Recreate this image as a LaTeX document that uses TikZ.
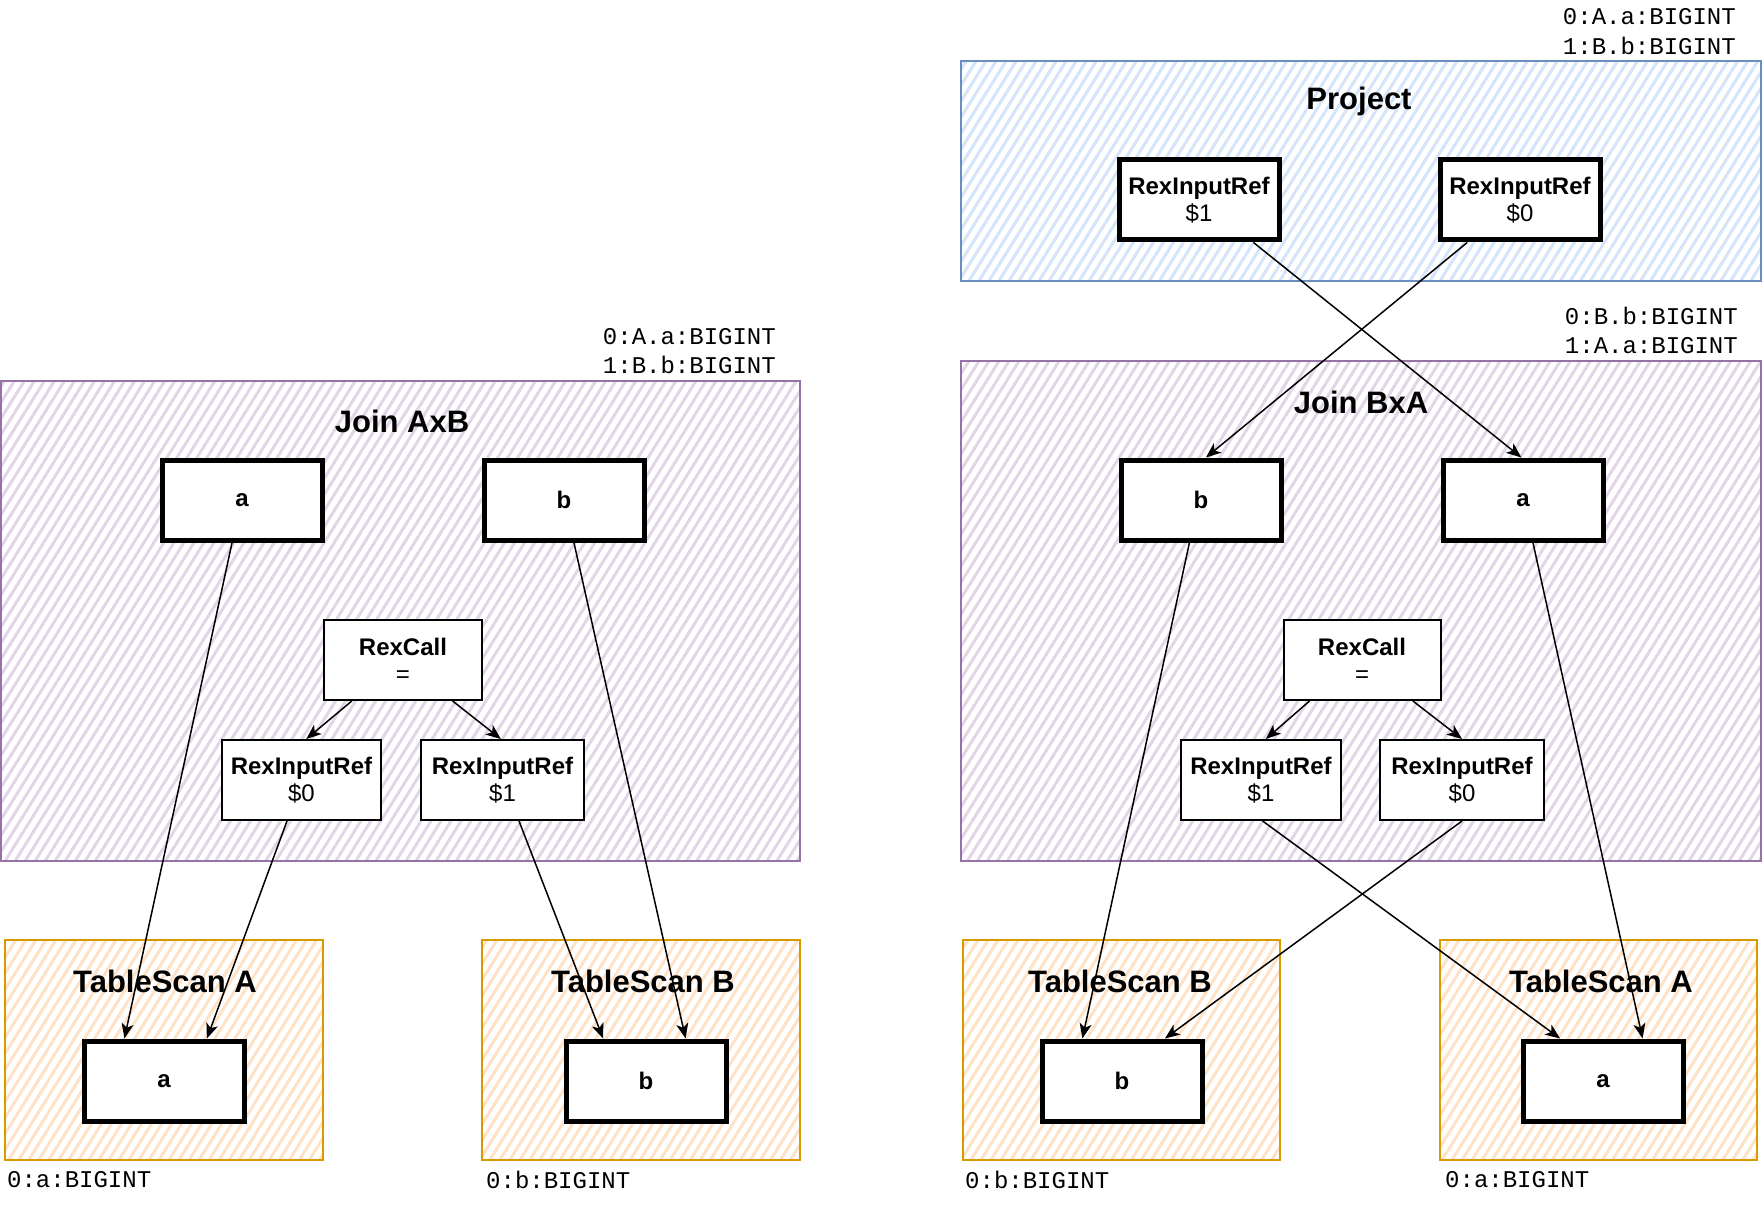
\documentclass[tikz,border=0pt]{standalone}
\usepackage{fontspec}
\setmainfont{Liberation Sans}
\setmonofont{Liberation Mono}
\usetikzlibrary{calc,arrows.meta,patterns.meta}
\definecolor{joinline}{HTML}{9673A6}
\definecolor{joinfill}{HTML}{E1D5E7}
\definecolor{projline}{HTML}{6C8EBF}
\definecolor{projfill}{HTML}{D4E4FA}
\definecolor{scanline}{HTML}{D79B00}
\definecolor{scanfill}{HTML}{FFE2C6}
\tikzset{
	group/.style={draw, line width=2pt, inner sep=0pt, pattern={Lines[angle=58,distance=8.5pt,line width=3pt]}},
	joinbox/.style={group, draw=joinline, pattern color=joinfill},
	projbox/.style={group, draw=projline, pattern color=projfill},
	scanbox/.style={group, draw=scanline, pattern color=scanfill},
	title/.style={font=\fontsize{31}{37}\selectfont\bfseries},
	field/.style={draw, fill=white, line width=5pt, minimum width=160pt, minimum height=80pt, inner sep=0pt, font=\fontsize{24}{27}\selectfont\bfseries},
	rex/.style={draw, fill=white, line width=2pt, minimum height=80pt, inner sep=0pt, align=center, font=\fontsize{24}{27}\selectfont},
	bigrex/.style={rex, line width=5pt, minimum width=160pt},
	schema/.style={font=\fontsize{24}{29.5}\selectfont\ttfamily, inner sep=0pt},
	flow/.style={line width=1.5pt, -{Stealth[length=15pt,width=12pt,inset=4pt]}}
}
\begin{document}
\begin{tikzpicture}[x=1pt,y=-1pt]
	\useasboundingbox (0,0) rectangle (1764,1222);
	% left plan
	\node[joinbox, minimum width=799pt, minimum height=480pt] (ljoin) at (400.5,621) {};
	\node[title] (ljoin-t) at (402,421) {Join AxB};
	\node[schema, anchor=east, align=right] (ljoin-s) at (776,351) {0:A.a:BIGINT\\1:B.b:BIGINT};
	\node[scanbox, minimum width=318pt, minimum height=220pt] (lscanA) at (164,1050) {};
	\node[title] (lscanA-t) at (165,981) {TableScan A};
	\node[schema, anchor=west] (lscanA-s) at (7,1180) {0:a:BIGINT};
	\node[scanbox, minimum width=318pt, minimum height=220pt] (lscanB) at (641,1050) {};
	\node[title] (lscanB-t) at (643,981) {TableScan B};
	\node[schema, anchor=west] (lscanB-s) at (486,1180) {0:b:BIGINT};
	\node[field] (ljoin-a) at (242,500) {a};
	\node[field] (ljoin-b) at (564,500) {b};
	\node[rex, minimum width=158pt] (lcall) at (403,660) {\textbf{RexCall}\\=};
	\node[rex, minimum width=159pt] (lref0) at (301.5,780) {\textbf{RexInputRef}\\\$0};
	\node[rex, minimum width=163pt] (lref1) at (502.5,780) {\textbf{RexInputRef}\\\$1};
	\node[field] (lscanA-a) at (164,1081) {a};
	\node[field] (lscanB-b) at (646,1081) {b};
	\draw[flow] ($(lcall.south west)!.18!(lcall.south east)$) -- ($(lref0.north west)!.53!(lref0.north east)$);
	\draw[flow] ($(lcall.south west)!.81!(lcall.south east)$) -- ($(lref1.north west)!.49!(lref1.north east)$);
	\draw[flow] ($(ljoin-a.south west)!.44!(ljoin-a.south east)$) -- ($(lscanA-a.north west)!.26!(lscanA-a.north east)$);
	\draw[flow] ($(lref0.south west)!.41!(lref0.south east)$) -- ($(lscanA-a.north west)!.76!(lscanA-a.north east)$);
	\draw[flow] ($(lref1.south west)!.60!(lref1.south east)$) -- ($(lscanB-b.north west)!.24!(lscanB-b.north east)$);
	\draw[flow] ($(ljoin-b.south west)!.56!(ljoin-b.south east)$) -- ($(lscanB-b.north west)!.74!(lscanB-b.north east)$);
	% right plan
	\node[projbox, minimum width=800pt, minimum height=220pt] (proj) at (1361,171) {};
	\node[title] (proj-t) at (1359,101) {Project};
	\node[schema, anchor=east, align=right] (proj-s) at (1736,31.5) {0:A.a:BIGINT\\1:B.b:BIGINT};
	\node[joinbox, minimum width=800pt, minimum height=500pt] (rjoin) at (1361,611) {};
	\node[title] (rjoin-t) at (1361,402) {Join BxA};
	\node[schema, anchor=east, align=right] (rjoin-s) at (1738,330.5) {0:B.b:BIGINT\\1:A.a:BIGINT};
	\node[scanbox, minimum width=317pt, minimum height=220pt] (rscanB) at (1121.5,1050) {};
	\node[title] (rscanB-t) at (1120,981) {TableScan B};
	\node[schema, anchor=west] (rscanB-s) at (965,1180) {0:b:BIGINT};
	\node[scanbox, minimum width=317pt, minimum height=220pt] (rscanA) at (1598.5,1050) {};
	\node[title] (rscanA-t) at (1601,981) {TableScan A};
	\node[schema, anchor=west] (rscanA-s) at (1445,1180) {0:a:BIGINT};
	\node[bigrex] (proj-ref1) at (1199,200) {\textbf{RexInputRef}\\\$1};
	\node[bigrex] (proj-ref0) at (1520,200) {\textbf{RexInputRef}\\\$0};
	\node[field] (rjoin-b) at (1201,500) {b};
	\node[field] (rjoin-a) at (1523,500) {a};
	\node[rex, minimum width=157pt] (rcall) at (1362,660) {\textbf{RexCall}\\=};
	\node[rex, minimum width=160pt] (rref1) at (1261,780) {\textbf{RexInputRef}\\\$1};
	\node[rex, minimum width=164pt] (rref0) at (1462,780) {\textbf{RexInputRef}\\\$0};
	\node[field] (rscanB-b) at (1122,1081) {b};
	\node[field] (rscanA-a) at (1603,1081) {a};
	\draw[flow] ($(proj-ref1.south west)!.83!(proj-ref1.south east)$) -- ($(rjoin-a.north west)!.49!(rjoin-a.north east)$);
	\draw[flow] ($(proj-ref0.south west)!.18!(proj-ref0.south east)$) -- ($(rjoin-b.north west)!.53!(rjoin-b.north east)$);
	\draw[flow] ($(rcall.south west)!.17!(rcall.south east)$) -- ($(rref1.north west)!.53!(rref1.north east)$);
	\draw[flow] ($(rcall.south west)!.82!(rcall.south east)$) -- ($(rref0.north west)!.50!(rref0.north east)$);
	\draw[flow] ($(rjoin-b.south west)!.43!(rjoin-b.south east)$) -- ($(rscanB-b.north west)!.26!(rscanB-b.north east)$);
	\draw[flow] ($(rjoin-a.south west)!.56!(rjoin-a.south east)$) -- ($(rscanA-a.north west)!.74!(rscanA-a.north east)$);
	\draw[flow] ($(rref1.south west)!.51!(rref1.south east)$) -- ($(rscanA-a.north west)!.24!(rscanA-a.north east)$);
	\draw[flow] ($(rref0.south west)!.50!(rref0.south east)$) -- ($(rscanB-b.north west)!.76!(rscanB-b.north east)$);
\end{tikzpicture}
\end{document}
